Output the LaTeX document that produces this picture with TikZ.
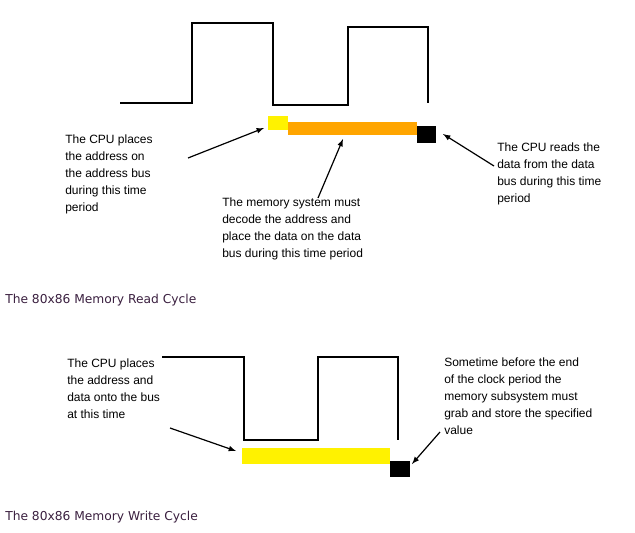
\documentclass[tikz,border=0pt]{standalone}
\usepackage{fontspec}
\setmainfont{Liberation Sans}
\newfontfamily\capfont{DejaVu Sans}
\definecolor{barorange}{HTML}{FFA500}
\definecolor{capcol}{HTML}{3A1F3F}
\begin{document}
\begin{tikzpicture}[x=0.75pt,y=-0.75pt,
  wave/.style={black,line width=0.9pt},
  txt/.style={anchor=north west,inner sep=0pt,align=left,font=\fontsize{9}{12.6}\selectfont},
  captxt/.style={anchor=west,inner sep=0pt,text=capcol,font=\capfont\fontsize{9.2}{11}\selectfont},
  arr/.style={-latex,line width=0.9pt}]
\useasboundingbox (0,0) rectangle (635,532);
\draw[wave] (120,103) -- (192,103) -- (192,23) -- (273,23) -- (273,105) -- (348,105) -- (348,27) -- (428,27) -- (428,103);
\node[fill=yellow,minimum width=15pt,minimum height=10.5pt,inner sep=0pt,anchor=north west] (ya) at (268,116) {};
\node[fill=barorange,minimum width=96.75pt,minimum height=9.75pt,inner sep=0pt,anchor=north west] (ob) at (288,122) {};
\node[fill=black,minimum width=14.25pt,minimum height=12.75pt,inner sep=0pt,anchor=north west] (ba) at (417,126) {};
\node[txt] (t1) at (65,135) {The CPU places\\the address on\\the address bus\\during this time\\period};
\node[txt] (t2) at (222,198) {The memory system must\\decode the address and\\place the data on the data\\bus during this time period};
\node[txt] (t3) at (497,143) {The CPU reads the\\data from the data\\bus during this time\\period};
\coordinate (a1) at (188,158); \coordinate (a2) at (318,198); \coordinate (a3) at (494,166);
\draw[arr] (a1) -- (264,128);
\draw[arr] (a2) -- (343,139);
\draw[arr] (a3) -- (443,134);
\node[captxt] (c1) at (5,300) {The 80x86 Memory Read Cycle};
\draw[wave] (162,357) -- (244,357) -- (244,440) -- (318,440) -- (318,357) -- (398,357) -- (398,440);
\node[fill=yellow,minimum width=111pt,minimum height=12pt,inner sep=0pt,anchor=north west] (yb) at (242,448) {};
\node[fill=black,minimum width=15pt,minimum height=12pt,inner sep=0pt,anchor=north west] (bb) at (390,461) {};
\node[txt] (t4) at (67,359) {The CPU places\\the address and\\data onto the bus\\at this time};
\node[txt] (t5) at (444,358) {Sometime before the end\\of the clock period the\\memory subsystem must\\grab and store the specified\\value};
\coordinate (a4) at (170,428); \coordinate (a5) at (440,432);
\draw[arr] (a4) -- (236,451);
\draw[arr] (a5) -- (412,464);
\node[captxt] (c2) at (5,517) {The 80x86 Memory Write Cycle};
\end{tikzpicture}
\end{document}
